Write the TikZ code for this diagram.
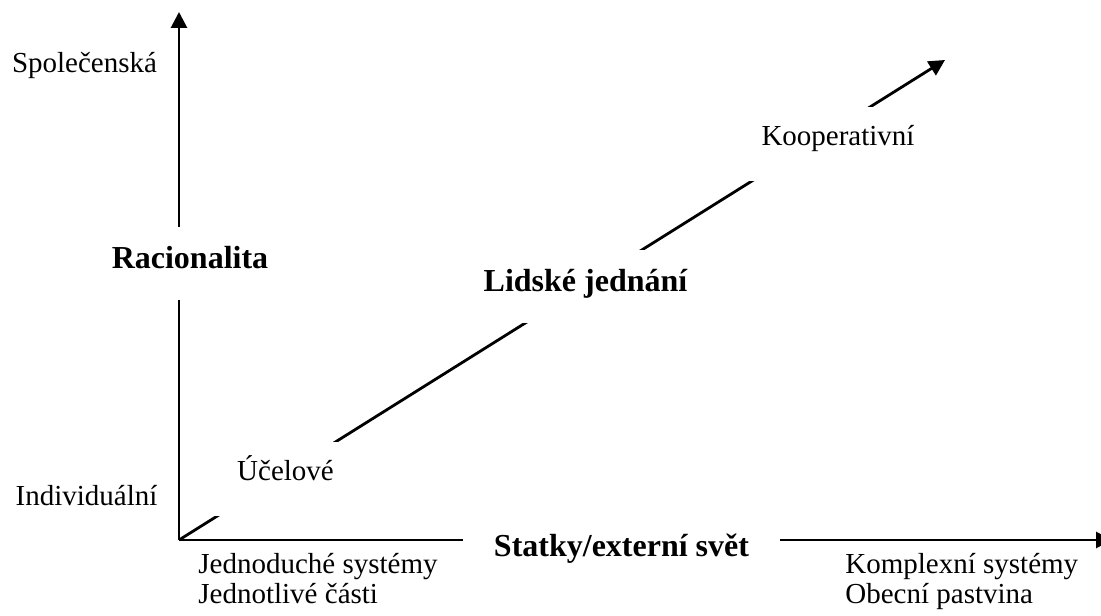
\documentclass[tikz,border=0pt]{standalone}
\usepackage{fontspec}
\setmainfont{Liberation Serif}
\usetikzlibrary{arrows.meta}

\begin{document}
\begin{tikzpicture}[x=0.5pt,y=0.5pt,
  axis/.style={line width=1.4pt,-{Triangle[length=8pt,width=8pt]}},
  lbl/.style={font=\fontsize{14.5}{14.5}\selectfont,inner sep=0pt,anchor=base},
  gaplbl/.style={lbl,fill=white,inner xsep=15.5pt,text height=19.5pt,text depth=17.5pt},
  gapbold/.style={gaplbl,font=\fontsize{16}{16}\selectfont\bfseries,text height=21pt,text depth=15.5pt}]

% Frame
\useasboundingbox (0,0) rectangle (1101,615);

% Axes
\coordinate (O) at (179,75);
\coordinate (ytop) at (179,603);
\coordinate (xend) at (1112,75);
\coordinate (dtip) at (945,555);
\draw[axis] (O) -- (ytop);
\draw[axis] (O) -- (xend);
\draw[axis] (O) -- (dtip);

% Axis titles
\node[gapbold] (racio) at (190,346) {Racionalita};
\node[gapbold] (jednani) at (585.5,323) {Lidské jednání};
\node[gapbold] (statky) at (621.5,59) {Statky/externí svět};

% Diagonal labels
\node[gaplbl] (koop) at (838,469) {Kooperativní};
\node[gaplbl] (ucel) at (285.5,134) {Účelové};

% Ends of the axes
\node[lbl] (spol) at (84.5,542) {Společenská};
\node[lbl] (indiv) at (86.5,109) {Individuální};
\node[lbl,anchor=base west,align=left] (jedno) at (198,12) {Jednoduché systémy\\Jednotlivé části};
\node[lbl,anchor=base west,align=left] (komplex) at (845,12) {Komplexní systémy\\Obecní pastvina};

\end{tikzpicture}
\end{document}
